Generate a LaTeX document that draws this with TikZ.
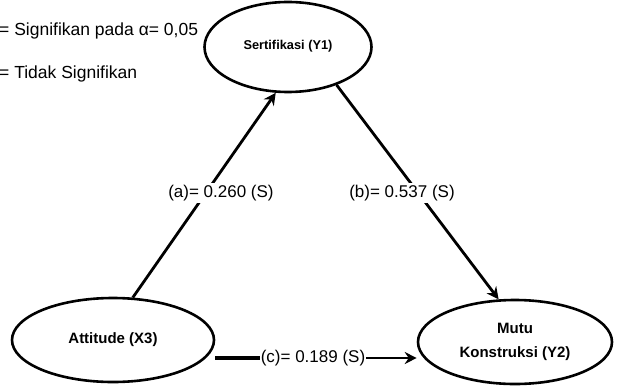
\documentclass[tikz,border=0pt]{standalone}
\usepackage{fontspec}
\setmainfont{Liberation Sans}
\usetikzlibrary{arrows.meta,positioning,shapes.geometric}
\definecolor{ink}{RGB}{0,0,0}
\tikzset{
  latent/.style={ellipse,draw=ink,line width=2.6pt,fill=white,align=center,
    inner sep=0pt,font=\bfseries\fontsize{15}{24}\selectfont,text=ink},
  pathline/.style={line width=2.8pt,ink,-{Stealth[length=12pt,width=12pt,inset=4pt]}},
  heavy/.style={line width=4.4pt,ink},
  coef/.style={font=\fontsize{17}{20}\selectfont,text=ink,fill=white,inner sep=2.5pt},
  legend/.style={font=\fontsize{17.5}{20}\selectfont,text=ink,anchor=west,inner sep=0pt}
}
\begin{document}
\begin{tikzpicture}[x=1pt,y=-1pt]
  \useasboundingbox (0,0) rectangle (617,385);
  % legend
  \node[legend] (sig) at (-1,31) {= Signifikan pada α= 0,05};
  \node[legend] (ns) at (-1,74) {= Tidak Signifikan};
  % latent variables
  \node[latent,minimum width=167pt,minimum height=90pt,font=\bfseries\fontsize{12.8}{15}\selectfont]
    (y1) at (288,47) {\raisebox{4pt}{Sertifikasi (Y1)}};
  \node[latent,minimum width=202pt,minimum height=84pt] (x3) at (113,340)
    {\raisebox{4pt}{Attitude (X3)}};
  \node[latent,minimum width=194pt,minimum height=84pt] (y2) at (515,342)
    {Mutu\\Konstruksi (Y2)};
  % paths
  \draw[pathline] (x3.65) -- (y1.255);
  \draw[pathline] (y1.322) -- (y2.111);
  \node[coef] (pa) at (221,193) {(a)= 0.260 (S)};
  \node[coef] (pb) at (402,193) {(b)= 0.537 (S)};
  \node[coef,fill=none,inner sep=1pt] (pc) at (313,358) {(c)= 0.189 (S)};
  \draw[heavy] (x3.east |- pc.west) -- (pc.west);
  \draw[pathline] (pc.east) -- (pc.east -| y2.west);
\end{tikzpicture}
\end{document}
